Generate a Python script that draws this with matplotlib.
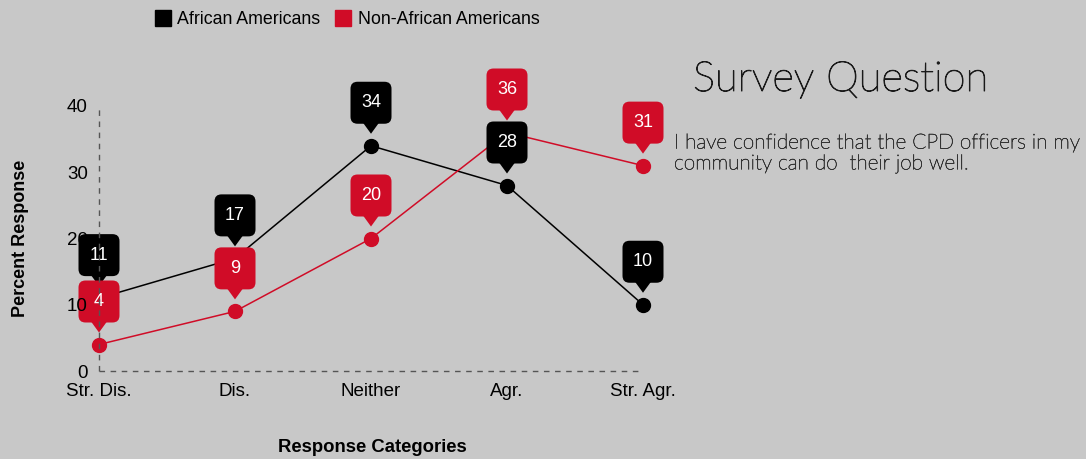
import matplotlib
matplotlib.use("Agg")
import matplotlib.pyplot as plt
import matplotlib.transforms as mtransforms
import matplotlib.patheffects as pe
from matplotlib.patches import FancyBboxPatch, Polygon
from matplotlib.lines import Line2D

plt.rcParams['font.family'] = ['Liberation Sans', 'DejaVu Sans']

categories = ['Str. Dis.', 'Dis.', 'Neither', 'Agr.', 'Str. Agr.']
african_am = [11, 17, 34, 28, 10]
non_african_am = [4, 9, 20, 36, 31]
series_names = ['African Americans', 'Non-African Americans']
yticks = [0, 10, 20, 30, 40]

bg = '#c8c8c8'
black = '#000000'
red = '#d00c27'

fig = plt.figure(figsize=(10.86, 4.59), dpi=100, facecolor=bg)
ax = fig.add_axes([65 / 1086, 88 / 459, 612 / 1086, 265 / 459], facecolor=bg)
ax.set_xlim(-0.25, len(categories) - 0.75)
ax.set_ylim(0, 40)
ax.set_axisbelow(False)
ax.spines['left'].set_position(('data', 0))
for s in ax.spines.values():
    s.set_visible(False)

x = list(range(len(categories)))
ax.set_xticks(x)
ax.set_xticklabels(categories, fontsize=13.5)
ax.set_yticks(yticks)
ax.set_yticklabels([str(t) for t in yticks], fontsize=13.5)
ax.tick_params(length=0)
ax.tick_params(axis='y', pad=8)
ax.tick_params(axis='x', pad=9)

# dashed axis guides
ax.plot([0, 0], [0, 40], color='#555555', lw=1, dashes=(4, 4), zorder=2.4, clip_on=False)
ax.plot([0, len(categories) - 1], [0, 0], color='#555555', lw=1, dashes=(4, 4),
        zorder=2.4, clip_on=False)

ax.plot(x, african_am, color=black, lw=1.1, marker='o', ms=10, zorder=2, clip_on=False)
ax.plot(x, non_african_am, color=red, lw=1.1, marker='o', ms=10, zorder=2, clip_on=False)


def callout(xv, yv, color, z):
    # pin-shaped label in pixel units above the data point
    tr = mtransforms.Affine2D() + mtransforms.ScaledTranslation(xv, yv, ax.transData)
    box = FancyBboxPatch((-20.5, 22), 41, 42, boxstyle='round,pad=0,rounding_size=7',
                         fc=color, ec='none', transform=tr, zorder=z, clip_on=False)
    tip = Polygon([(-8, 23), (8, 23), (0, 12)], closed=True, fc=color, ec='none',
                  transform=tr, zorder=z, clip_on=False)
    ax.add_patch(box)
    ax.add_patch(tip)
    ax.text(0, 43, str(yv), transform=tr, color='white', fontsize=13,
            ha='center', va='center', zorder=z + 0.01, clip_on=False)


for xi, v in zip(x, african_am):
    callout(xi, v, black, 2.2)
for xi, v in zip(x, non_african_am):
    callout(xi, v, red, 2.3)

ax.set_ylabel('Percent Response', fontsize=13, fontweight='bold')
ax.yaxis.set_label_coords(-0.072, 0.5)
ax.set_xlabel('Response Categories', fontsize=13.3, fontweight='bold')
ax.xaxis.set_label_coords(0.5016, -0.29)
ax.xaxis.label.set_va('center')
ax.yaxis.label.set_va('center')

handles = [Line2D([], [], ls='none', marker='s', ms=12, color=black),
           Line2D([], [], ls='none', marker='s', ms=12, color=red)]
fig.legend(handles, series_names, loc='upper left', bbox_to_anchor=(138 / 1086, 1.01),
           ncol=2, frameon=False, fontsize=12.8, handletextpad=0.3, columnspacing=0.8,
           handlelength=1.0)

fig.text(693 / 1086, 1 - 80 / 459, 'Survey Question', fontsize=30, family='Lato',
         weight='light', color='#1a1a1a', va='center', ha='left',
         path_effects=[pe.withStroke(linewidth=0.7, foreground='#1a1a1a')])
fig.text(674 / 1086, 1 - 153 / 459,
         'I have confidence that the CPD officers in my\ncommunity can do  their job well.',
         fontsize=15, family='Lato', weight='light', color='#333333', va='center',
         ha='left', linespacing=1.05,
         path_effects=[pe.withStroke(linewidth=0.4, foreground='#333333')])

fig.savefig('out.png', dpi=100, facecolor=bg)
